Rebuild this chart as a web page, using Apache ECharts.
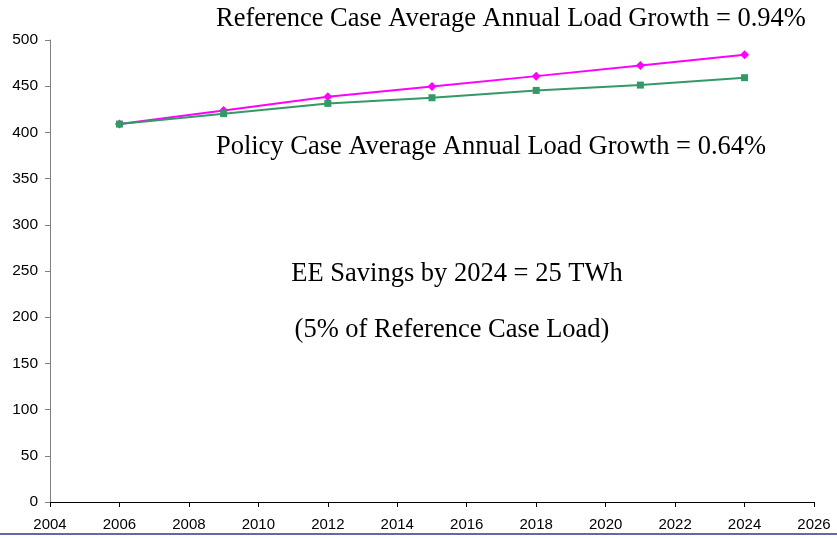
<!DOCTYPE html>
<html>
<head>
<meta charset="utf-8">
<script src="https://cdn.jsdelivr.net/npm/echarts@6/dist/echarts.min.js"></script>
<style>
  html, body { margin: 0; padding: 0; background: #fff; }
  #chart { width: 837px; height: 538px; }
</style>
</head>
<body>
<div id="chart"></div>
<script>
// data
const years = [2006, 2009, 2012, 2015, 2018, 2021, 2024];
const referenceLoad = [409, 423.8, 438.6, 449.8, 460.9, 472.4, 484];
const policyLoad = [409, 420.3, 431.4, 437.5, 445.4, 451.2, 459.2];
const notes = [
  'Reference Case Average Annual Load Growth = 0.94%',
  'Policy Case Average Annual Load Growth = 0.64%',
  'EE Savings by 2024 = 25 TWh',
  '(5% of Reference Case Load)'
];

const chart = echarts.init(document.getElementById('chart'));
const pairs = vals => years.map((y, i) => [y, vals[i]]);
const serif = '"Liberation Serif", "Times New Roman", serif';
const sans = '"Liberation Sans", Arial, sans-serif';
// annotation text, placed by its centre point
const note = (text, x, y) => ({
  type: 'text', x: x, y: y,
  style: { text: text, font: '26.5px ' + serif, fill: '#000', align: 'center', verticalAlign: 'middle' }
});

chart.setOption({
  animation: false,
  grid: { left: 50, right: 23, top: 40, bottom: 36 },
  xAxis: {
    type: 'value', min: 2004, max: 2026, interval: 2,
    axisLine: { lineStyle: { color: '#000', width: 1 } },
    axisTick: { show: true, length: 5, lineStyle: { color: '#000' } },
    axisLabel: { color: '#000', fontSize: 15, fontFamily: sans, margin: 15, formatter: v => String(v) },
    splitLine: { show: false }
  },
  yAxis: {
    type: 'value', min: 0, max: 500, interval: 50,
    axisLine: { show: true, lineStyle: { color: '#808080', width: 1 } },
    axisTick: { show: true, length: 5, lineStyle: { color: '#808080' } },
    axisLabel: { color: '#000', fontSize: 15.5, fontFamily: sans, margin: 12 },
    splitLine: { show: false }
  },
  series: [
    {
      name: 'Reference', type: 'line', data: pairs(referenceLoad),
      symbol: 'diamond', symbolSize: 9,
      lineStyle: { color: '#ff00ff', width: 2 },
      itemStyle: { color: '#ff00ff' }
    },
    {
      name: 'Policy', type: 'line', data: pairs(policyLoad),
      symbol: 'rect', symbolSize: 7,
      lineStyle: { color: '#339966', width: 2 },
      itemStyle: { color: '#339966' }
    }
  ],
  graphic: [
    note(notes[0], 511, 19),
    note(notes[1], 491, 147),
    note(notes[2], 457, 274),
    note(notes[3], 452, 330),
    { type: 'rect', shape: { x: 0, y: 533, width: 837, height: 2 }, style: { fill: '#6666aa' } }
  ]
});
</script>
</body>
</html>
